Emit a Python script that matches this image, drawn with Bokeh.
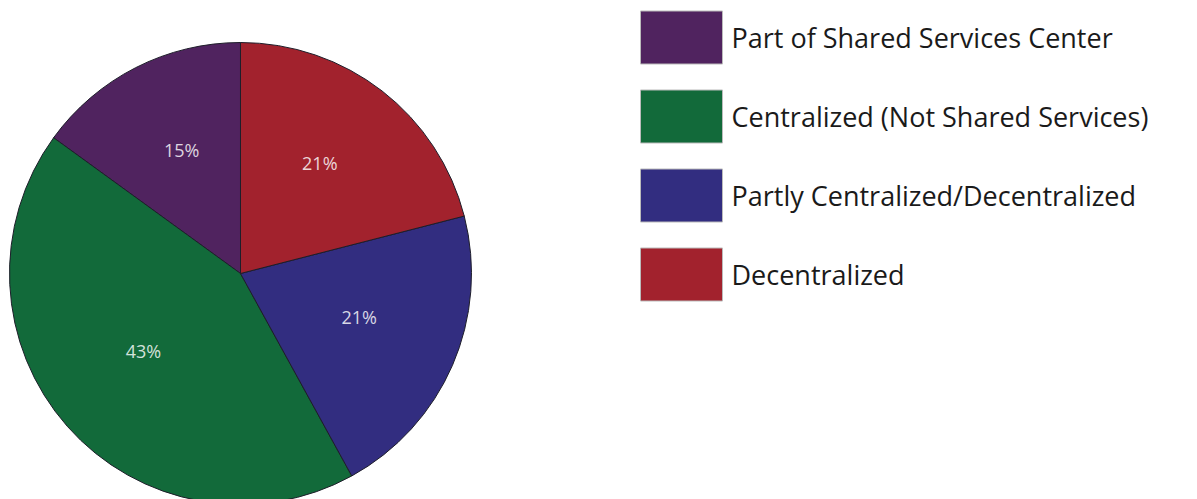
import math
from bokeh.plotting import figure
from bokeh.models import Range1d, ColumnDataSource
from bokeh.core.properties import value
from bokeh.embed import file_html
from bokeh.resources import INLINE

# ---- data ----
categories = ["Part of Shared Services Center",
              "Centralized (Not Shared Services)",
              "Partly Centralized/Decentralized",
              "Decentralized"]
shares = [15, 43, 21, 21]
colors = ["#50235f", "#126a3a", "#322d80", "#a2222d"]
pct_labels = ["15%", "43%", "21%", "21%"]

W, H = 1197, 499
p = figure(width=W, height=H, output_backend="svg", toolbar_location=None,
           x_range=Range1d(0, W), y_range=Range1d(0, H), min_border=0)
p.axis.visible = False
p.grid.visible = False
p.outline_line_color = None
p.background_fill_color = "white"
p.border_fill_color = "white"

# pie geometry (pixels)
cx, cy, R = 240, H - 273, 231
total = sum(shares)
starts, ends, mids = [], [], []
acc = 0.0
for s in shares:
    a0 = math.pi / 2 + 2 * math.pi * acc / total
    acc += s
    a1 = math.pi / 2 + 2 * math.pi * acc / total
    starts.append(a0); ends.append(a1); mids.append((a0 + a1) / 2)

src = ColumnDataSource(dict(start=starts, end=ends, color=colors))
p.wedge(x=cx, y=cy, radius=R, start_angle="start", end_angle="end",
        direction="anticlock", fill_color="color", line_color="#1e1e2a",
        line_width=1, source=src)

lr = 0.56 * R
lx = [cx + lr * math.cos(m) for m in mids]
ly = [cy + lr * math.sin(m) + 8 for m in mids]
p.text(x=lx, y=ly, text=pct_labels, text_color="white", text_alpha=0.82,
       text_font=value("Open Sans"), text_font_size="18px",
       text_align="center", text_baseline="middle")

# legend
box_x0, box_w, box_h = 640, 82, 53
top_center, step = H - 37, 79
bx = [box_x0 + box_w / 2] * len(categories)
by = [top_center - i * step for i in range(len(categories))]
p.rect(x=bx, y=by, width=box_w, height=box_h, fill_color=colors,
       line_color="#bbbbbb", line_width=1)
p.text(x=[box_x0 + box_w + 9] * len(categories), y=by, text=categories,
       text_color="#1a1a1a", text_font=value("Open Sans"),
       text_font_size="27px", text_align="left", text_baseline="middle")

open("out.html", "w").write(file_html(p, INLINE))
